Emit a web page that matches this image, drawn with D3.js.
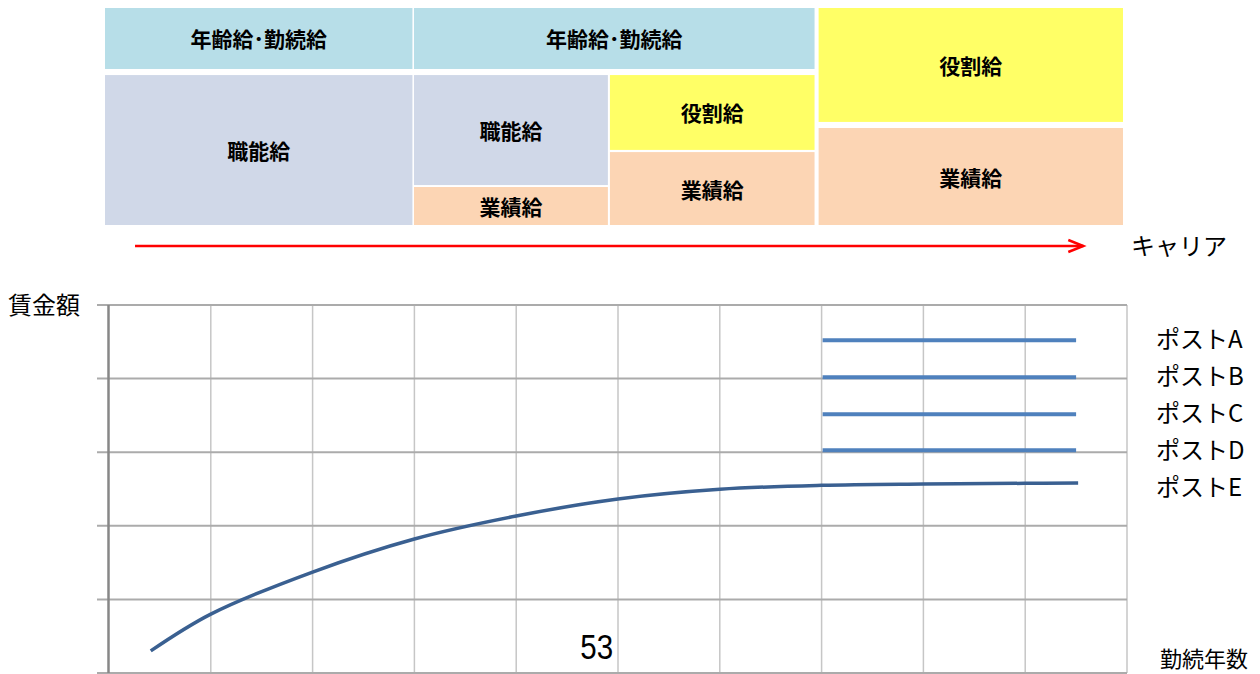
<!DOCTYPE html>
<html>
<head>
<meta charset="utf-8">
<script src="https://cdn.jsdelivr.net/npm/d3@7"></script>
<style>
  html, body { margin: 0; padding: 0; background: #ffffff; }
  svg { display: block; }
  text { font-family: "Noto Sans CJK JP", "Noto Sans", sans-serif; fill: #000; }
</style>
</head>
<body>
<svg id="chart" width="1260" height="674"></svg>
<script>
// ---------- Data: wage composition diagram (career % x share %) ----------
const boxLabels = ["年齢給･勤続給", "職能給", "年齢給･勤続給", "職能給", "業績給", "役割給", "業績給", "役割給", "業績給"];
const boxTypes  = ["age", "skill", "age", "skill", "perf", "role", "perf", "role", "perf"];
const boxCareerFrom = [0, 0, 30.35, 30.35, 30.35, 49.6, 49.6, 70.1, 70.1];
const boxCareerTo   = [30.2, 30.2, 69.7, 49.4, 49.4, 69.7, 69.7, 100, 100];
const boxShareFrom  = [71.9, 0, 71.9, 18.4, 0, 34.6, 0, 47.5, 0];
const boxShareTo    = [100, 69.1, 100, 69.1, 17.5, 69.1, 33.6, 100, 44.7];

// ---------- Data: wage curve chart ----------
const yearTicks = [0, 1, 2, 3, 4, 5, 6, 7, 8, 9, 10];
const wageTicks = [0, 1, 2, 3, 4, 5];
const postEYears = [0.41, 1, 2, 3, 4, 5, 6, 7, 8, 9, 9.52];
const postEWage  = [0.30, 0.80, 1.372, 1.821, 2.133, 2.364, 2.496, 2.550, 2.568, 2.577, 2.582];
const postNames  = ["ポストA", "ポストB", "ポストC", "ポストD", "ポストE"];
const postLevels = [4.52, 4.02, 3.515, 3.026];
const postFromYear = 7.01;
const postToYear = 9.5;
const annotationText = "53";
const annotationYear = 4.63;
const annotationWage = 0.19;

// ---------- Drawing ----------
const svg = d3.select("#chart");

const colorByType = { age: "#B7DEE8", skill: "#D0D8E8", perf: "#FCD5B4", role: "#FFFF66" };

const cx = d3.scaleLinear().domain([0, 100]).range([105, 1123]);
const cy = d3.scaleLinear().domain([0, 100]).range([225, 8]);

const boxes = boxLabels.map((label, i) => ({
  label, type: boxTypes[i],
  x0: boxCareerFrom[i], x1: boxCareerTo[i], y0: boxShareFrom[i], y1: boxShareTo[i]
}));

const gBox = svg.append("g");
gBox.selectAll("rect").data(boxes).join("rect")
  .attr("x", d => cx(d.x0))
  .attr("y", d => cy(d.y1))
  .attr("width", d => cx(d.x1) - cx(d.x0))
  .attr("height", d => cy(d.y0) - cy(d.y1))
  .attr("fill", d => colorByType[d.type]);

gBox.selectAll("text").data(boxes).join("text")
  .attr("x", d => (cx(d.x0) + cx(d.x1)) / 2)
  .attr("y", d => (cy(d.y0) + cy(d.y1)) / 2)
  .attr("text-anchor", "middle")
  .attr("dominant-baseline", "central")
  .attr("font-size", 21)
  .attr("font-weight", "bold")
  .text(d => d.label);

// career arrow
const arrowY = 246;
svg.append("line")
  .attr("x1", cx(2.95)).attr("x2", cx(96.1))
  .attr("y1", arrowY).attr("y2", arrowY)
  .attr("stroke", "#FF0000").attr("stroke-width", 2.5);
svg.append("path")
  .attr("d", `M${cx(96.1) - 15},${arrowY - 6} L${cx(96.1)},${arrowY} L${cx(96.1) - 15},${arrowY + 6}`)
  .attr("fill", "none").attr("stroke", "#FF0000").attr("stroke-width", 2.5);
svg.append("text")
  .attr("x", 1131).attr("y", 244.5)
  .attr("dominant-baseline", "central")
  .attr("font-size", 24)
  .text("キャリア");

// chart scales
const x = d3.scaleLinear().domain([0, 10]).range([109, 1127]);
const y = d3.scaleLinear().domain([0, 5]).range([673, 305]);

const gGrid = svg.append("g");
// vertical grid lines
gGrid.selectAll("line.v").data(yearTicks.slice(1)).join("line")
  .attr("class", "v")
  .attr("x1", d => x(d)).attr("x2", d => x(d))
  .attr("y1", y(0)).attr("y2", y(5))
  .attr("stroke", "#C6C6C6").attr("stroke-width", 1.5);
// horizontal grid lines (with tick marks to the left)
gGrid.selectAll("line.h").data(wageTicks).join("line")
  .attr("class", "h")
  .attr("x1", x(0) - 12).attr("x2", x(10))
  .attr("y1", d => y(d)).attr("y2", d => y(d))
  .attr("stroke", "#ABABAB").attr("stroke-width", 2);
// left axis
gGrid.append("line")
  .attr("x1", x(0) - 0.5).attr("x2", x(0) - 0.5)
  .attr("y1", y(0)).attr("y2", y(5))
  .attr("stroke", "#878787").attr("stroke-width", 2.5);

// post A-D flat lines
svg.append("g").selectAll("line").data(postLevels).join("line")
  .attr("x1", x(postFromYear)).attr("x2", x(postToYear))
  .attr("y1", d => y(d)).attr("y2", d => y(d))
  .attr("stroke", "#4F81BD").attr("stroke-width", 4);

// post E curve
const lineGen = d3.line()
  .x((d, i) => x(postEYears[i]))
  .y(d => y(d))
  .curve(d3.curveCatmullRom.alpha(0.5));
svg.append("path")
  .attr("d", lineGen(postEWage))
  .attr("fill", "none")
  .attr("stroke", "#3A6091")
  .attr("stroke-width", 3.5);

// post labels
svg.append("g").selectAll("text").data(postNames).join("text")
  .attr("x", 1156)
  .attr("y", (d, i) => 337 + i * 37.2)
  .attr("dominant-baseline", "central")
  .attr("font-size", 24)
  .text(d => d);

// axis titles
svg.append("text")
  .attr("x", 8).attr("y", 303.5)
  .attr("dominant-baseline", "central")
  .attr("font-size", 24)
  .text("賃金額");
svg.append("text")
  .attr("x", 1160).attr("y", 657)
  .attr("dominant-baseline", "central")
  .attr("font-size", 22)
  .text("勤続年数");

// stray annotation
svg.append("text")
  .attr("transform", `translate(${x(annotationYear)},${y(annotationWage)}) scale(0.82,1)`)
  .style("font-family", "'Liberation Sans', Arial, sans-serif")
  .attr("font-size", 36)
  .text(annotationText);
</script>
</body>
</html>
